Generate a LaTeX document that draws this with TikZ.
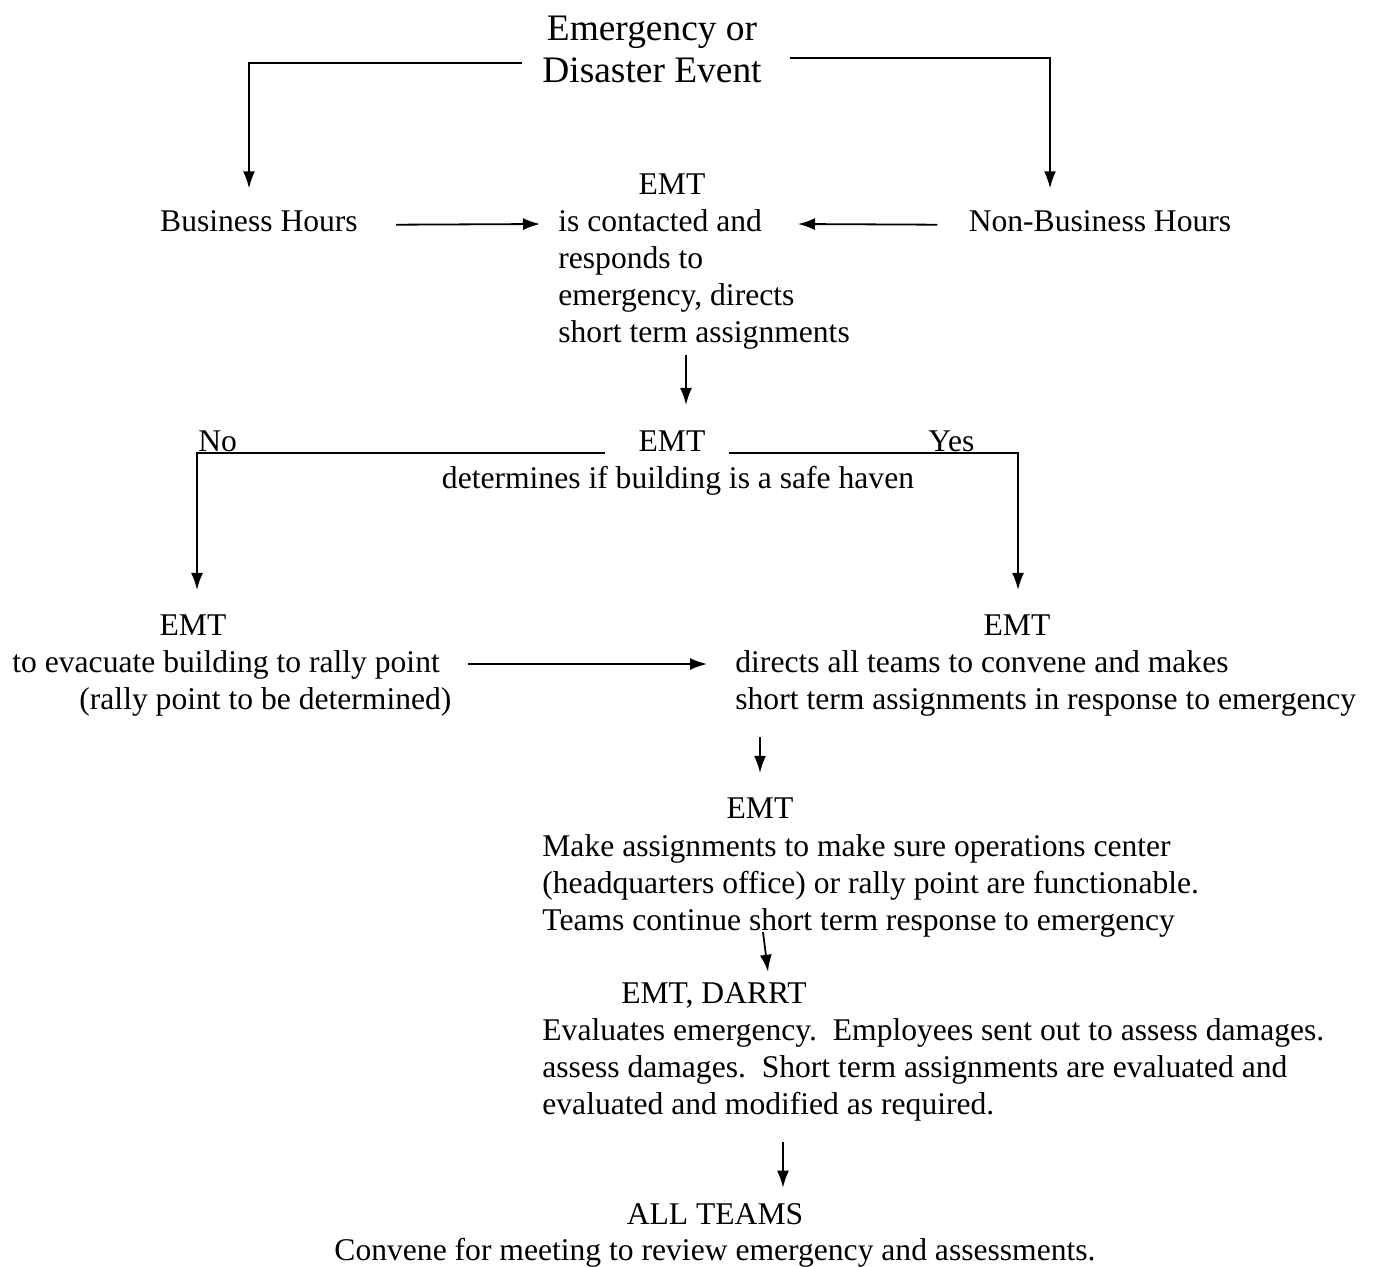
\documentclass[tikz,border=0pt]{standalone}
\usepackage{fontspec}
\setmainfont{Liberation Serif}
\usetikzlibrary{arrows.meta,calc}
\begin{document}
\begin{tikzpicture}[x=0.5pt,y=-0.5pt,
  txt/.style={inner sep=0pt, align=left, font=\fontsize{15.8pt}{18.5pt}\selectfont},
  ttl/.style={inner sep=0pt, align=center, font=\fontsize{18.7pt}{21pt}\selectfont},
  arr/.style={line width=0.9pt, -{Latex[length=8.5pt,width=6pt]}}]
\useasboundingbox[fill=white] (0,0) rectangle (1377,1266);

% nodes (multi-line nodes are placed by the baseline of their last line)
\node[ttl, anchor=base] (event) at (652,82) {Emergency or\\Disaster Event};
\node[txt, anchor=base] (bh) at (259,231) {Business Hours};
\node[txt, anchor=base] (nbh) at (1100,231) {Non-Business Hours};
\node[txt, anchor=base] (emt1h) at (672,194) {EMT};
\node[txt, anchor=base west] (emt1) at (558,342) {is contacted and\\responds to\\emergency, directs\\short term assignments};
\node[txt, anchor=base] (emt2h) at (672,451) {EMT};
\node[txt, anchor=base] (emt2) at (678,488) {determines if building is a safe haven};
\node[txt, anchor=base west] (no) at (198,451) {No};
\node[txt, anchor=base west] (yes) at (928,451) {Yes};
\node[txt, anchor=base] (emt3h) at (193,635) {EMT};
\node[txt, anchor=base west] (emt3) at (12,709) {to evacuate building to rally point\\\hspace*{33.5pt}(rally point to be determined)};
\node[txt, anchor=base] (emt4h) at (1017,635) {EMT};
\node[txt, anchor=base west] (emt4) at (735,709) {directs all teams to convene and makes\\short term assignments in response to emergency};
\node[txt, anchor=base] (emt5h) at (760,818) {EMT};
\node[txt, anchor=base west] (emt5) at (542,930) {Make assignments to make sure operations center\\(headquarters office) or rally point are functionable.\\Teams continue short term response to emergency};
\node[txt, anchor=base] (emt6h) at (714,1003) {EMT, DARRT};
\node[txt, anchor=base west] (emt6) at (542,1114) {Evaluates emergency.\ \ Employees sent out to assess damages.\\assess damages.\ \ Short term assignments are evaluated and\\evaluated and modified as required.};
\node[txt, anchor=base] (allh) at (715,1224) {ALL TEAMS};
\node[txt, anchor=base] (all) at (715,1260) {Convene for meeting to review emergency and assessments.};

% connectors
\draw[arr] ([shift={(-10.25pt,-7.2pt)}]event.west) -| ([shift={(-5pt,10.7pt)}]bh.north);
\draw[arr] ([shift={(14.25pt,-4.7pt)}]event.east) -| ([shift={(-25pt,10.7pt)}]nbh.north);
\draw[arr] ([shift={(19pt,-2pt)}]bh.east) -- ([shift={(-9pt,59pt)}]emt1.base west);
\draw[arr] ([shift={(-15.5pt,-2pt)}]nbh.west) -- ([shift={(120pt,59pt)}]emt1.base west);
\draw[arr] ($(emt1.base west)+(64pt,-6.5pt)$) -- ($(emt1.base west |- emt2h.north)+(64pt,12.5pt)$);
\draw[arr] ([shift={(-16.5pt,-6.25pt)}]emt2h.west) -| ([shift={(2pt,12pt)}]emt3h.north);
\draw[arr] ([shift={(11.5pt,-6.25pt)}]emt2h.east) -| ([shift={(0.5pt,12pt)}]emt4h.north);
\draw[arr] ([shift={(228pt,22.5pt)}]emt3.base west) -- ([shift={(-14pt,22.5pt)}]emt4.base west);
\draw[arr] ($(emt4.base west)+(12.5pt,-14pt)$) -- ($(emt4.base west |- emt5h.north)+(12.5pt,12pt)$);
\draw[arr] ($(emt5.base west)+(110.5pt,-1pt)$) -- ([shift={(27pt,5pt)}]emt6h.north);
\draw[arr] ($(emt6.base west)+(120.5pt,-14pt)$) -- ($(emt6.base west |- allh.north)+(120.5pt,7.5pt)$);
\end{tikzpicture}
\end{document}
